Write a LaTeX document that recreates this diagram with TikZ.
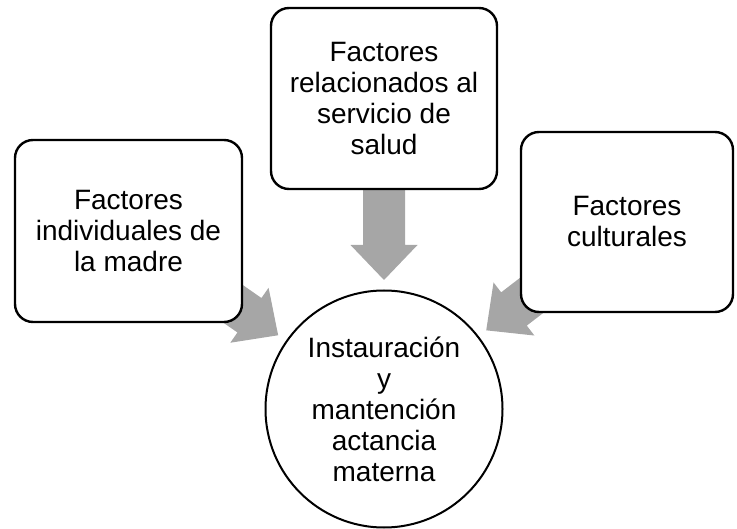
\documentclass[tikz,border=0pt]{standalone}
\usepackage{fontspec}
\setmainfont{Liberation Sans}
\usetikzlibrary{calc}
\pgfdeclarelayer{background}
\pgfsetlayers{background,main}
\definecolor{arrowgray}{RGB}{166,166,166}
\tikzset{
  fbox/.style={draw=black, line width=2.4pt, rounded corners=18pt, fill=white,
    align=center, inner sep=0pt, font=\fontsize{28}{31}\selectfont},
  fcirc/.style={draw=black, line width=2pt, circle, fill=white, inner sep=0pt,
    align=center, font=\fontsize{28}{31}\selectfont},
  blockarr/.style={fill=arrowgray, draw=none}
}
\newcommand{\blockarrow}[2]{%
  \fill[blockarr]
    ($(#1)!21pt!90:(#2)$) --
    ($($(#2)!35pt!(#1)$)!21pt!90:(#2)$) --
    ($($(#2)!35pt!(#1)$)!33.5pt!90:(#2)$) --
    (#2) --
    ($($(#2)!35pt!(#1)$)!33.5pt!-90:(#2)$) --
    ($($(#2)!35pt!(#1)$)!21pt!-90:(#2)$) --
    ($(#1)!21pt!-90:(#2)$) -- cycle;
}
\begin{document}
\begin{tikzpicture}[x=1pt,y=-1pt]
\useasboundingbox (0,0) rectangle (737,529);
\node[fbox, minimum width=227pt, minimum height=182pt] (lbox) at (128.5,231)
  {Factores\\individuales de\\la madre};
\node[fbox, minimum width=226pt, minimum height=181pt] (tbox) at (384,98.5)
  {Factores\\relacionados al\\servicio de\\salud};
\node[fbox, minimum width=212pt, minimum height=180pt] (rbox) at (627,222)
  {Factores\\culturales};
\node[fcirc, minimum size=237pt] (circ) at (384,409)
  {Instauración\\y\\mantención\\actancia\\materna};
\coordinate (ltip) at ($(circ.center)!129pt!(lbox.center)$);
\coordinate (ttip) at ($(circ.center)!129pt!(tbox.center)$);
\coordinate (rtip) at ($(circ.center)!129pt!(rbox.center)$);
\begin{pgfonlayer}{background}
\blockarrow{lbox.center}{ltip}
\blockarrow{tbox.center}{ttip}
\blockarrow{rbox.center}{rtip}
\end{pgfonlayer}
\end{tikzpicture}
\end{document}
